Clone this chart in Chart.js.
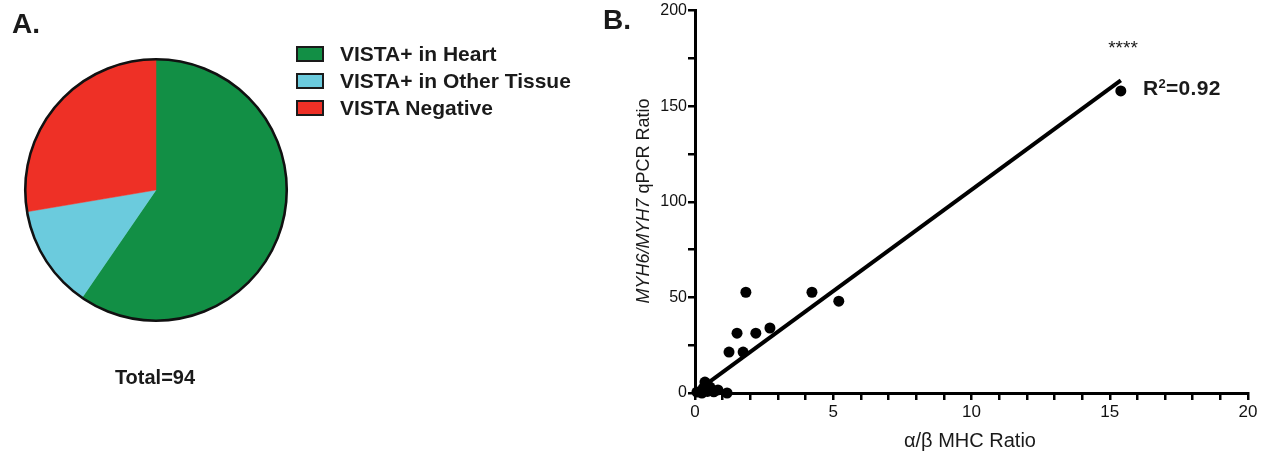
<!DOCTYPE html>
<html>
<head>
<meta charset="utf-8">
<script src="https://cdn.jsdelivr.net/npm/chart.js@4"></script>
<style>
  html, body { margin:0; padding:0; background:#fff; }
  body { width:1271px; height:458px; position:relative; overflow:hidden; font-family:"Liberation Sans", Arial, Helvetica, sans-serif; color:#1a1a1a; }
  .abs { position:absolute; white-space:nowrap; }
  #pie { position:absolute; left:0; top:0; }
  .lbl { font-weight:bold; font-size:28px; }
  .leg { position:absolute; left:296px; width:24px; height:12px; border:2px solid #1a1a1a; }
  .legt { position:absolute; left:340px; font-weight:bold; font-size:21px; line-height:20px; }
</style>
</head>
<body>
<canvas id="pie" width="330" height="400"></canvas>
<canvas id="sc" width="671" height="458" style="position:absolute;left:600px;top:0"></canvas>

<div class="abs lbl" style="left:12px;top:8px;">A.</div>
<div class="abs lbl" style="left:603px;top:4px;">B.</div>
<div class="abs" style="left:95px;top:365px;width:120px;text-align:center;font-weight:bold;font-size:20px;line-height:24px;">Total=94</div>

<div id="legend"></div>

<div class="abs" style="left:1098px;top:38px;width:50px;text-align:center;font-size:19px;line-height:20px;">****</div>
<div class="abs" style="left:1143px;top:77px;font-weight:bold;font-size:21px;line-height:22px;letter-spacing:0.3px;">R<sup style="font-size:13px;vertical-align:7px;line-height:0;">2</sup>=0.92</div>

<div class="abs" style="left:870px;top:428px;width:200px;text-align:center;font-size:20px;line-height:24px;">α/β MHC Ratio</div>
<div class="abs" style="left:643px;top:201px;transform:translate(-50%,-50%) rotate(-90deg);font-size:18px;line-height:20px;"><i>MYH6/MYH7</i> qPCR Ratio</div>

<script>
// ---- Panel A data ----
const pieLabels = ["VISTA+ in Heart", "VISTA+ in Other Tissue", "VISTA Negative"];
const pieCounts = [56, 12, 26];
const pieColors = ["#128F45", "#6BCBDD", "#EE3026"];

// ---- Panel B data ----
const alphaBetaRatio = [15.4, 1.84, 4.23, 5.2, 1.52, 2.2, 2.71, 1.23, 1.74, 0.36, 0.54, 0.83, 1.16, 0.25, 0.07, 0.45, 0.68, 0.3];
const qpcrRatio      = [158, 52.7, 52.7, 48, 31.3, 31.3, 34, 21.4, 21.4, 5.7, 3.1, 1.6, 0, 0, 0.5, 0.8, 0.6, 2.5];
const fitX = [0.25, 15.4];
const fitY = [3, 163.5];
const xTickStep = 1, xLabelStep = 5;
const yTickStep = 25, yLabelStep = 50;

// legend (HTML)
const legTops = [46, 73, 100];
const legend = document.getElementById('legend');
pieLabels.forEach((l, i) => {
  const b = document.createElement('div');
  b.className = 'leg'; b.style.top = legTops[i] + 'px'; b.style.background = pieColors[i];
  legend.appendChild(b);
  const t = document.createElement('div');
  t.className = 'legt'; t.style.top = (legTops[i] - 2) + 'px'; t.textContent = l;
  legend.appendChild(t);
});

const ringPlugin = {
  id: 'ring',
  afterDatasetsDraw(chart) {
    const arc = chart.getDatasetMeta(0).data[0];
    if (!arc) return;
    const ctx = chart.ctx;
    ctx.save();
    ctx.beginPath();
    ctx.arc(arc.x, arc.y, arc.outerRadius, 0, Math.PI * 2);
    ctx.lineWidth = 2.6;
    ctx.strokeStyle = '#111';
    ctx.stroke();
    ctx.restore();
  }
};

new Chart(document.getElementById('pie'), {
  type: 'pie',
  data: { labels: pieLabels, datasets: [{ data: pieCounts, backgroundColor: pieColors, borderColor: pieColors, borderWidth: 0.5 }] },
  options: {
    responsive: false, animation: false, devicePixelRatio: 1,
    layout: { padding: { left: 25, top: 59, right: 43, bottom: 79 } },
    plugins: { legend: { display: false }, tooltip: { enabled: false } }
  },
  plugins: [ringPlugin]
});

const pts = alphaBetaRatio.map((x, i) => ({ x: x, y: qpcrRatio[i] }));
const fit = fitX.map((x, i) => ({ x: x, y: fitY[i] }));

new Chart(document.getElementById('sc'), {
  type: 'scatter',
  data: {
    datasets: [
      { type: 'line', data: fit, borderColor: '#000', borderWidth: 4, pointRadius: 0, fill: false, clip: false },
      { data: pts, backgroundColor: '#000', borderWidth: 0, pointRadius: 5.5, clip: false }
    ]
  },
  options: {
    responsive: false, animation: false, devicePixelRatio: 1,
    layout: { padding: { left: 0, right: 23, top: 10, bottom: 0 } },
    plugins: { legend: { display: false }, tooltip: { enabled: false } },
    scales: {
      x: {
        type: 'linear', min: 0, max: 20,
        afterFit: s => { s.height = 65; },
        border: { display: true, color: '#000', width: 3 },
        grid: { display: true, drawOnChartArea: false, drawTicks: true, tickLength: 7, color: '#000', lineWidth: 2.5 },
        ticks: { stepSize: xTickStep, autoSkip: false, maxRotation: 0, padding: 2, color: '#111',
                 font: { family: "'Liberation Sans', Arial", size: 17 },
                 callback: v => (v % xLabelStep === 0 ? String(v) : '') }
      },
      y: {
        type: 'linear', min: 0, max: 200,
        afterFit: s => { s.width = 95; },
        border: { display: true, color: '#000', width: 3 },
        grid: { display: true, drawOnChartArea: false, drawTicks: true, tickLength: 7, color: '#000', lineWidth: 2.5 },
        ticks: { stepSize: yTickStep, autoSkip: false, padding: 1, color: '#111',
                 font: { family: "'Liberation Sans', Arial", size: 16 },
                 callback: v => (v % yLabelStep === 0 ? String(v) : '') }
      }
    }
  }
});
</script>
</body>
</html>
